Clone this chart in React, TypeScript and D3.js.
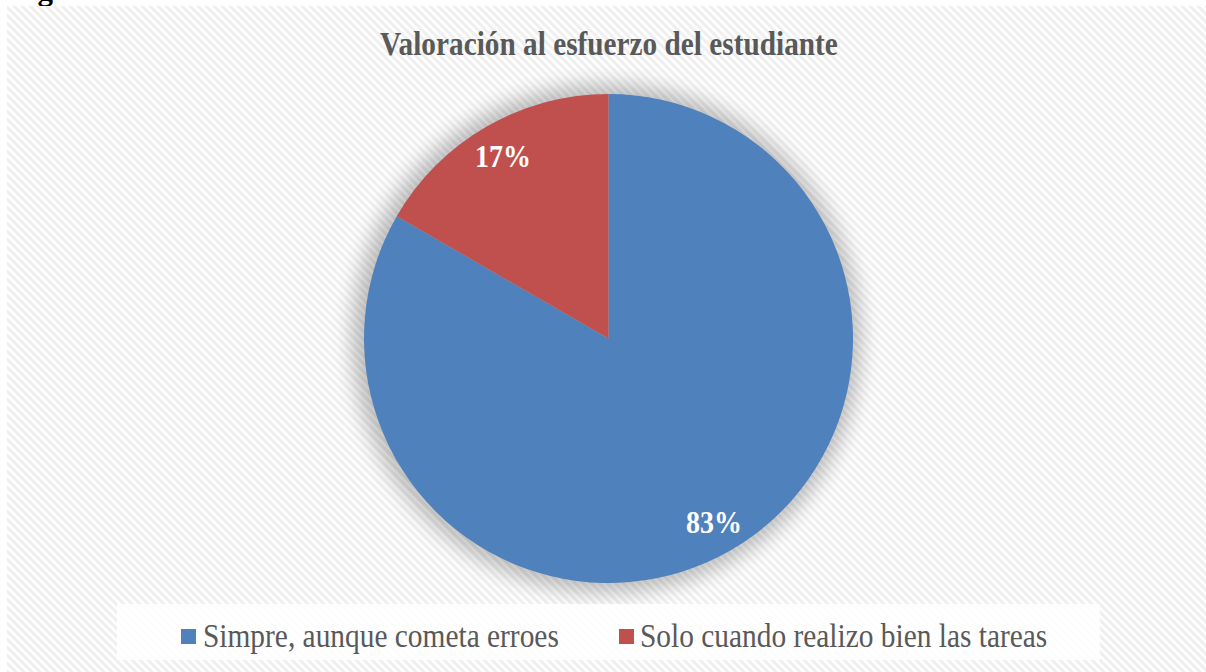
import React from "react";
import * as d3 from "d3";

const categories = ["Simpre, aunque cometa erroes", "Solo cuando realizo bien las tareas"];
const values = [5, 1];
const colors = ["#4f81bd", "#c0504d"];
const title = "Valoración al esfuerzo del estudiante";
const caption = "Figura 6";

const W = 1206;
const H = 672;
const SY = 1.15;

function T(props: any) {
  const { x, y, children, ...rest } = props;
  return (
    <text transform={`translate(${x},${y}) scale(1,${SY})`} {...rest}>
      {children}
    </text>
  );
}

export default function App() {
  const cx = 608.5;
  const cy = 338.5;
  const r = 244.5;
  const total = d3.sum(values);
  const pie = d3.pie<number>().sort(null).value((d) => d)(values);
  const arc = d3.arc<d3.PieArcDatum<number>>().innerRadius(0).outerRadius(r);
  const labelArc = d3.arc<d3.PieArcDatum<number>>().innerRadius(211).outerRadius(211);
  const fmt = (v: number) => Math.round((v / total) * 100) + "%";

  const legendItems = [
    { x: 181, textX: 203 },
    { x: 619, textX: 640 },
  ];

  return (
    <svg
      width={W}
      height={H}
      style={{ position: "absolute", left: 0, top: 0, display: "block" }}
      fontFamily="'Liberation Serif', 'Times New Roman', serif"
    >
      <defs>
        <pattern id="hatch" width="8" height="8" patternUnits="userSpaceOnUse">
          <rect width="8" height="8" fill="#ffffff" />
          <path d="M-2,-2 L10,10 M-2,6 L2,10 M6,-2 L10,2" stroke="#efefef" strokeWidth="3" />
        </pattern>
        <filter id="shadow" x="-30%" y="-30%" width="160%" height="160%">
          <feGaussianBlur stdDeviation="10" />
        </filter>
      </defs>
      <rect x={0} y={0} width={W} height={H} fill="#ffffff" />
      <text x={10} y={-0.5} fontSize={31} fontWeight="bold" fill="#000">
        {caption}
      </text>
      <rect x={7} y={6} width={W - 7} height={H - 6} fill="url(#hatch)" />
      <T x={609} y={55} textAnchor="middle" fontSize={29.3} fontWeight="bold" fill="#595959">
        {title}
      </T>
      <circle cx={cx - 2} cy={cy} r={r + 10} fill="#000" opacity={0.24} filter="url(#shadow)" />
      <g transform={`translate(${cx},${cy})`}>
        {pie.map((d, i) => (
          <path key={i} d={arc(d) || ""} fill={colors[i]} />
        ))}
        {pie.map((d, i) => {
          const [lx, ly] = labelArc.centroid(d);
          return (
            <T
              key={"l" + i}
              x={lx}
              y={ly + 11.5}
              textAnchor="middle"
              fontSize={28}
              fontWeight="bold"
              fill="#ffffff"
            >
              {fmt(d.value)}
            </T>
          );
        })}
      </g>
      <rect x={117} y={604} width={983} height={56} fill="#ffffff" opacity={0.85} />
      {categories.map((c, i) => (
        <g key={c}>
          <rect x={legendItems[i].x} y={629} width={15} height={15} fill={colors[i]} />
          <T x={legendItems[i].textX} y={647} fontSize={29.4} fill="#595959">
            {c}
          </T>
        </g>
      ))}
    </svg>
  );
}
